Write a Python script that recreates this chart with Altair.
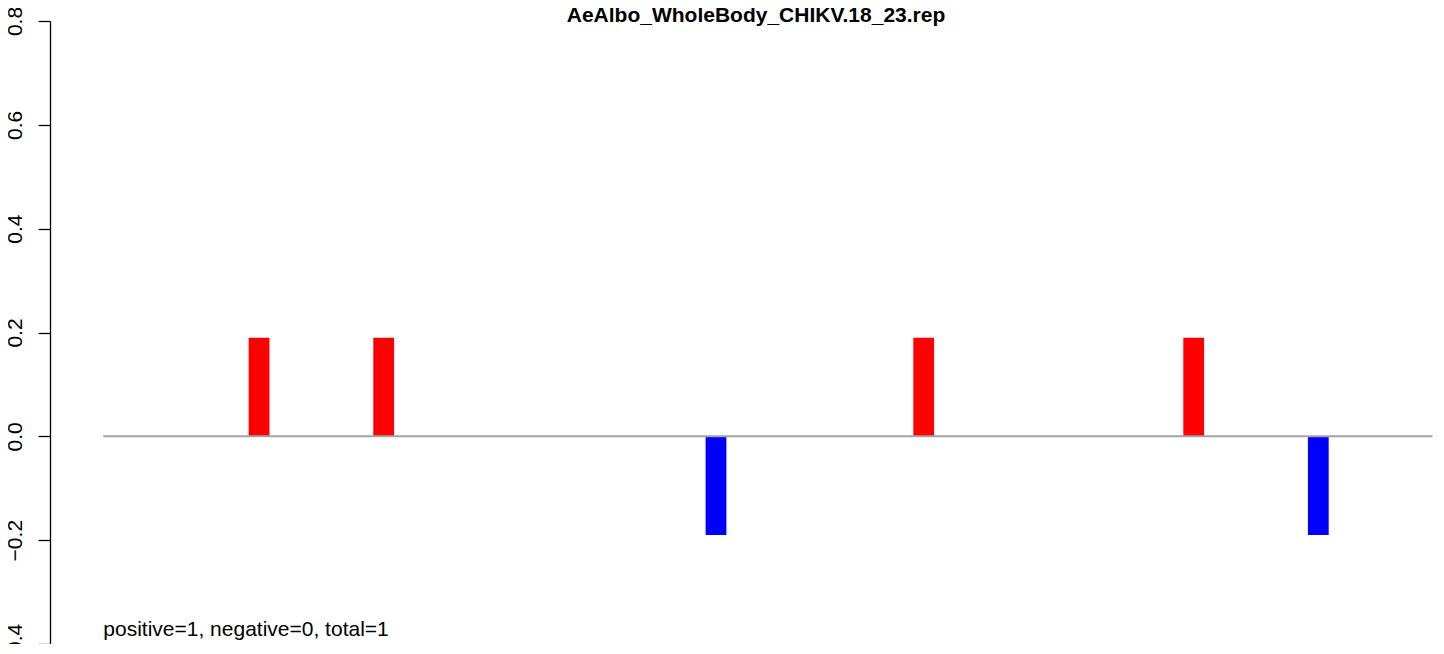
import altair as alt
import pandas as pd

# ---- data ----
bar_start = [7, 13, 29, 39, 52, 58]
bar_end = [8, 14, 30, 40, 53, 59]
bar_value = [0.19, 0.19, -0.19, 0.19, 0.19, -0.19]
bar_sign = ["pos", "pos", "neg", "pos", "pos", "neg"]

line_start = [0]
line_end = [64]
line_level = [0.0]

y_ticks = [-0.4, -0.2, 0.0, 0.2, 0.4, 0.6, 0.8]
x_domain = [-2.566, 64.07]
y_domain = [-0.4, 0.8]

title_text = ["AeAlbo_WholeBody_CHIKV.18_23.rep"]
note_text = ["positive=1, negative=0, total=1"]
note_x = [0]
note_y = [-0.385]

FONT = "Liberation Sans"
FS = 21

bars_df = pd.DataFrame({"start": bar_start, "end": bar_end,
                        "value": bar_value, "sign": bar_sign})
line_df = pd.DataFrame({"start": line_start, "end": line_end, "level": line_level})
note_df = pd.DataFrame({"label": note_text, "x": note_x, "y": note_y})
title_df = pd.DataFrame({"label": title_text})

xs = alt.Scale(domain=x_domain, nice=False, zero=False)
ys = alt.Scale(domain=y_domain, nice=False, zero=False)

y_axis = alt.Axis(values=y_ticks, format=".1f", grid=False, title=None,
                  labelAngle=270, labelAlign="center", labelBaseline="alphabetic",
                  labelPadding=17, tickSize=12, tickColor="black", domainColor="black",
                  tickWidth=1.3, domainWidth=1.3, labelColor="black",
                  labelFontSize=FS, labelFont=FONT)

bars = alt.Chart(bars_df).mark_rect().encode(
    x=alt.X("start:Q", scale=xs, axis=None),
    x2="end:Q",
    y=alt.Y("value:Q", scale=ys, axis=y_axis),
    y2=alt.datum(0),
    color=alt.Color("sign:N", scale=alt.Scale(domain=["pos", "neg"],
                                              range=["#FF0000", "#0000FF"]),
                    legend=None),
)

zero_line = alt.Chart(line_df).mark_rule(color="#A3A3A3", strokeWidth=2).encode(
    x=alt.X("start:Q", scale=xs, axis=None),
    x2="end:Q",
    y=alt.Y("level:Q", scale=ys, axis=y_axis),
)

note = alt.Chart(note_df).mark_text(align="left", baseline="alphabetic",
                                    fontSize=FS, font=FONT, color="black").encode(
    x=alt.X("x:Q", scale=xs, axis=None),
    y=alt.Y("y:Q", scale=ys, axis=y_axis),
    text="label:N",
)

title = alt.Chart(title_df).mark_text(align="center", baseline="alphabetic",
                                      fontSize=FS, font=FONT, fontWeight="bold",
                                      color="black").encode(
    x=alt.value(706),
    y=alt.value(1),
    text="label:N",
)

chart = alt.layer(bars, zero_line, note, title).properties(
    width=1384,
    height=623,
    padding={"left": 42, "top": 13, "right": 0, "bottom": 0},
    autosize=alt.AutoSizeParams(type="none"),
    background="white",
).configure_view(stroke=None)

chart.save("out.html", embed_options={"renderer": "svg", "actions": False})
